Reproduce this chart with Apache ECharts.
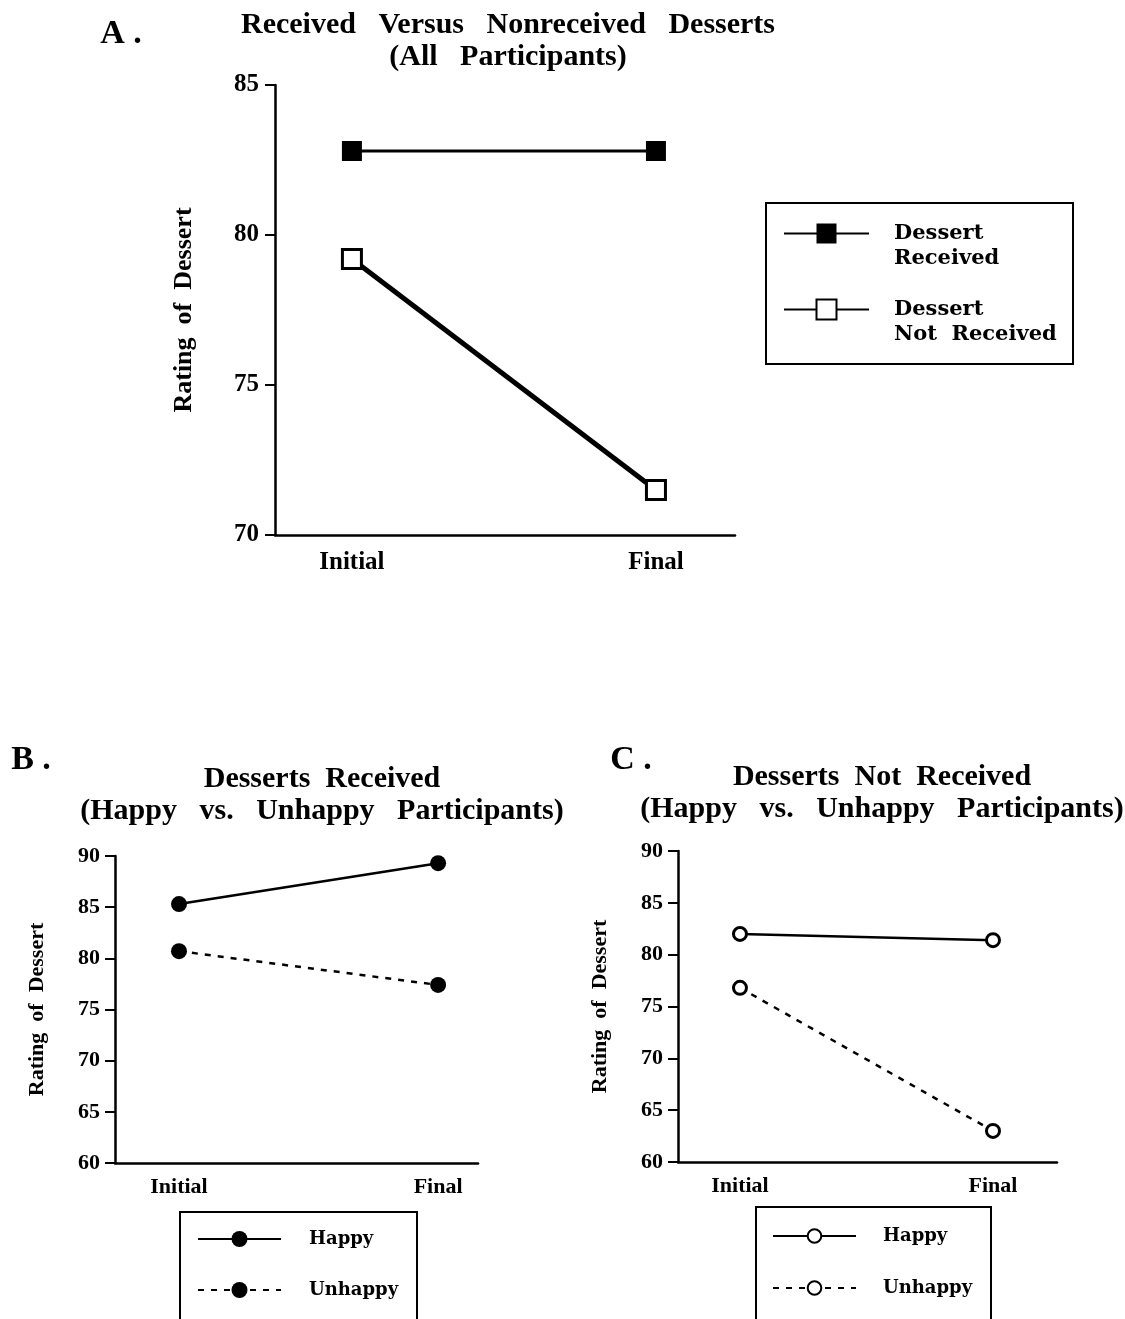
<!DOCTYPE html>
<html>
<head>
<meta charset="utf-8">
<script src="https://cdn.jsdelivr.net/npm/echarts@6/dist/echarts.min.js"></script>
<style>
html, body { margin: 0; padding: 0; background: #fff; }
#chart { width: 1125px; height: 1319px; }
</style>
</head>
<body>
<div id="chart"></div>
<script>
// values
var phases = ['Initial', 'Final'];
var receivedA = [82.8, 82.8];
var notReceivedA = [79.2, 71.5];
var happyB = [85.3, 89.3];
var unhappyB = [80.7, 77.4];
var happyC = [82.0, 81.4];
var unhappyC = [76.8, 63.0];

// leading empty line keeps the first text line level with the icon
var legendNames = {
    'Dessert Received': '\nDessert\nReceived',
    'Dessert Not Received': '\nDessert\nNot  Received',
    'B Happy': 'Happy',
    'B Unhappy': 'Unhappy',
    'C Happy': 'Happy',
    'C Unhappy': 'Unhappy'
};

var serif = "'Liberation Serif', 'Times New Roman', serif";
var wide = "'DejaVu Serif', 'Liberation Serif', serif";

function points(arr) {
    return phases.map(function (p, i) { return [i, arr[i]]; });
}

function xAxisFor(gridIndex, min, max, fontSize, margin) {
    return {
        type: 'value',
        gridIndex: gridIndex,
        min: min,
        max: max,
        splitLine: { show: false },
        axisTick: { show: false },
        axisLine: { onZero: false, lineStyle: { color: '#000', width: 2.5 } },
        axisLabel: {
            customValues: [0, 1],
            formatter: function (v) { return phases[v]; },
            color: '#000',
            fontFamily: serif,
            fontWeight: 'bold',
            fontSize: fontSize,
            margin: margin
        }
    };
}

function yAxisFor(gridIndex, min, max, fontSize, margin, nameSize, nameGap) {
    return {
        type: 'value',
        gridIndex: gridIndex,
        min: min,
        max: max,
        interval: 5,
        splitLine: { show: false },
        axisLine: { show: true, onZero: false, lineStyle: { color: '#000', width: 2.5 } },
        axisTick: { show: true, length: 10, lineStyle: { color: '#000', width: 2 } },
        axisLabel: {
            color: '#000',
            fontFamily: serif,
            fontWeight: 'bold',
            fontSize: fontSize,
            margin: margin
        },
        name: 'Rating  of  Dessert',
        nameLocation: 'middle',
        nameGap: nameGap,
        nameTextStyle: {
            color: '#000',
            fontFamily: serif,
            fontWeight: 'bold',
            fontSize: nameSize
        }
    };
}

function lineSeries(name, idx, data, symbol, size, fill, lineWidth, dashed) {
    return {
        name: name,
        type: 'line',
        xAxisIndex: idx,
        yAxisIndex: idx,
        data: points(data),
        symbol: symbol,
        symbolSize: size,
        showSymbol: true,
        animation: false,
        emphasis: { disabled: true },
        itemStyle: { color: fill, borderColor: '#000', borderWidth: fill === '#fff' ? 3 : 0 },
        lineStyle: { color: '#000', width: lineWidth, type: dashed ? [6, 7] : 'solid' },
        z: 3
    };
}

function legendFor(names, left, top, itemWidth, itemHeight, gap, fontSize, padLeft, lineHeight) {
    return {
        data: names,
        orient: 'vertical',
        left: left,
        top: top,
        padding: 0,
        itemWidth: itemWidth,
        itemHeight: itemHeight,
        itemGap: gap,
        selectedMode: false,
        formatter: function (n) { return legendNames[n]; },
        textStyle: {
            color: '#000',
            fontFamily: wide,
            fontWeight: 'bold',
            fontSize: fontSize,
            lineHeight: lineHeight,
            padding: [0, 0, 0, padLeft]
        }
    };
}

function label(text, x, y, size, lineHeight) {
    return {
        type: 'text',
        x: x,
        y: y,
        style: {
            text: text,
            fill: '#000',
            fontFamily: serif,
            fontWeight: 'bold',
            fontSize: size,
            lineHeight: lineHeight || size,
            align: 'center',
            verticalAlign: 'top'
        }
    };
}

function box(x, y, w, h) {
    return {
        type: 'rect',
        shape: { x: x, y: y, width: w, height: h },
        style: { fill: 'none', stroke: '#000', lineWidth: 2 }
    };
}

var option = {
    backgroundColor: '#fff',
    grid: [
        { left: 275, top: 85, width: 460, height: 450 },
        { left: 115, top: 856, width: 363, height: 307 },
        { left: 678, top: 851, width: 379, height: 311 }
    ],
    xAxis: [
        xAxisFor(0, -0.253, 1.26, 25, 15),
        xAxisFor(1, -0.247, 1.154, 22, 13),
        xAxisFor(2, -0.245, 1.253, 22, 13)
    ],
    yAxis: [
        yAxisFor(0, 70, 85, 25, 16, 26, 78),
        yAxisFor(1, 60, 90, 22, 15, 22, 67),
        yAxisFor(2, 60, 90, 22, 15, 22, 67)
    ],
    legend: [
        legendFor(['Dessert Received', 'Dessert Not Received'], 783, 196, 85, 25, 1, 21, 20, 25),
        legendFor(['B Happy', 'B Unhappy'], 197, 1229, 83, 20, 31, 18, 23, 20),
        legendFor(['C Happy', 'C Unhappy'], 772, 1227, 83, 17, 34, 18, 22, 17)
    ],
    graphic: [
        label('A .', 121, 17, 34),
        label('B .', 31, 743, 34),
        label('C .', 631, 743, 34),
        label('Received   Versus   Nonreceived   Desserts\n(All   Participants)', 508, 9, 30, 32),
        label('Desserts  Received\n(Happy   vs.   Unhappy   Participants)', 322, 763, 30, 32),
        label('Desserts  Not  Received\n(Happy   vs.   Unhappy   Participants)', 882, 761, 30, 32),
        box(766, 203, 307, 161),
        box(180, 1212, 237, 120),
        box(756, 1207, 235, 125)
    ],
    series: [
        lineSeries('Dessert Received', 0, receivedA, 'rect', 20, '#000', 3, false),
        lineSeries('Dessert Not Received', 0, notReceivedA, 'rect', 19, '#fff', 5, false),
        lineSeries('B Happy', 1, happyB, 'circle', 16, '#000', 2.5, false),
        lineSeries('B Unhappy', 1, unhappyB, 'circle', 16, '#000', 2.5, true),
        lineSeries('C Happy', 2, happyC, 'circle', 13, '#fff', 2.5, false),
        lineSeries('C Unhappy', 2, unhappyC, 'circle', 13, '#fff', 2.5, true)
    ]
};

window.onload = function () {
    var chart = echarts.init(document.getElementById('chart'), null, { renderer: 'canvas' });
    chart.setOption(option);
};
</script>
</body>
</html>
